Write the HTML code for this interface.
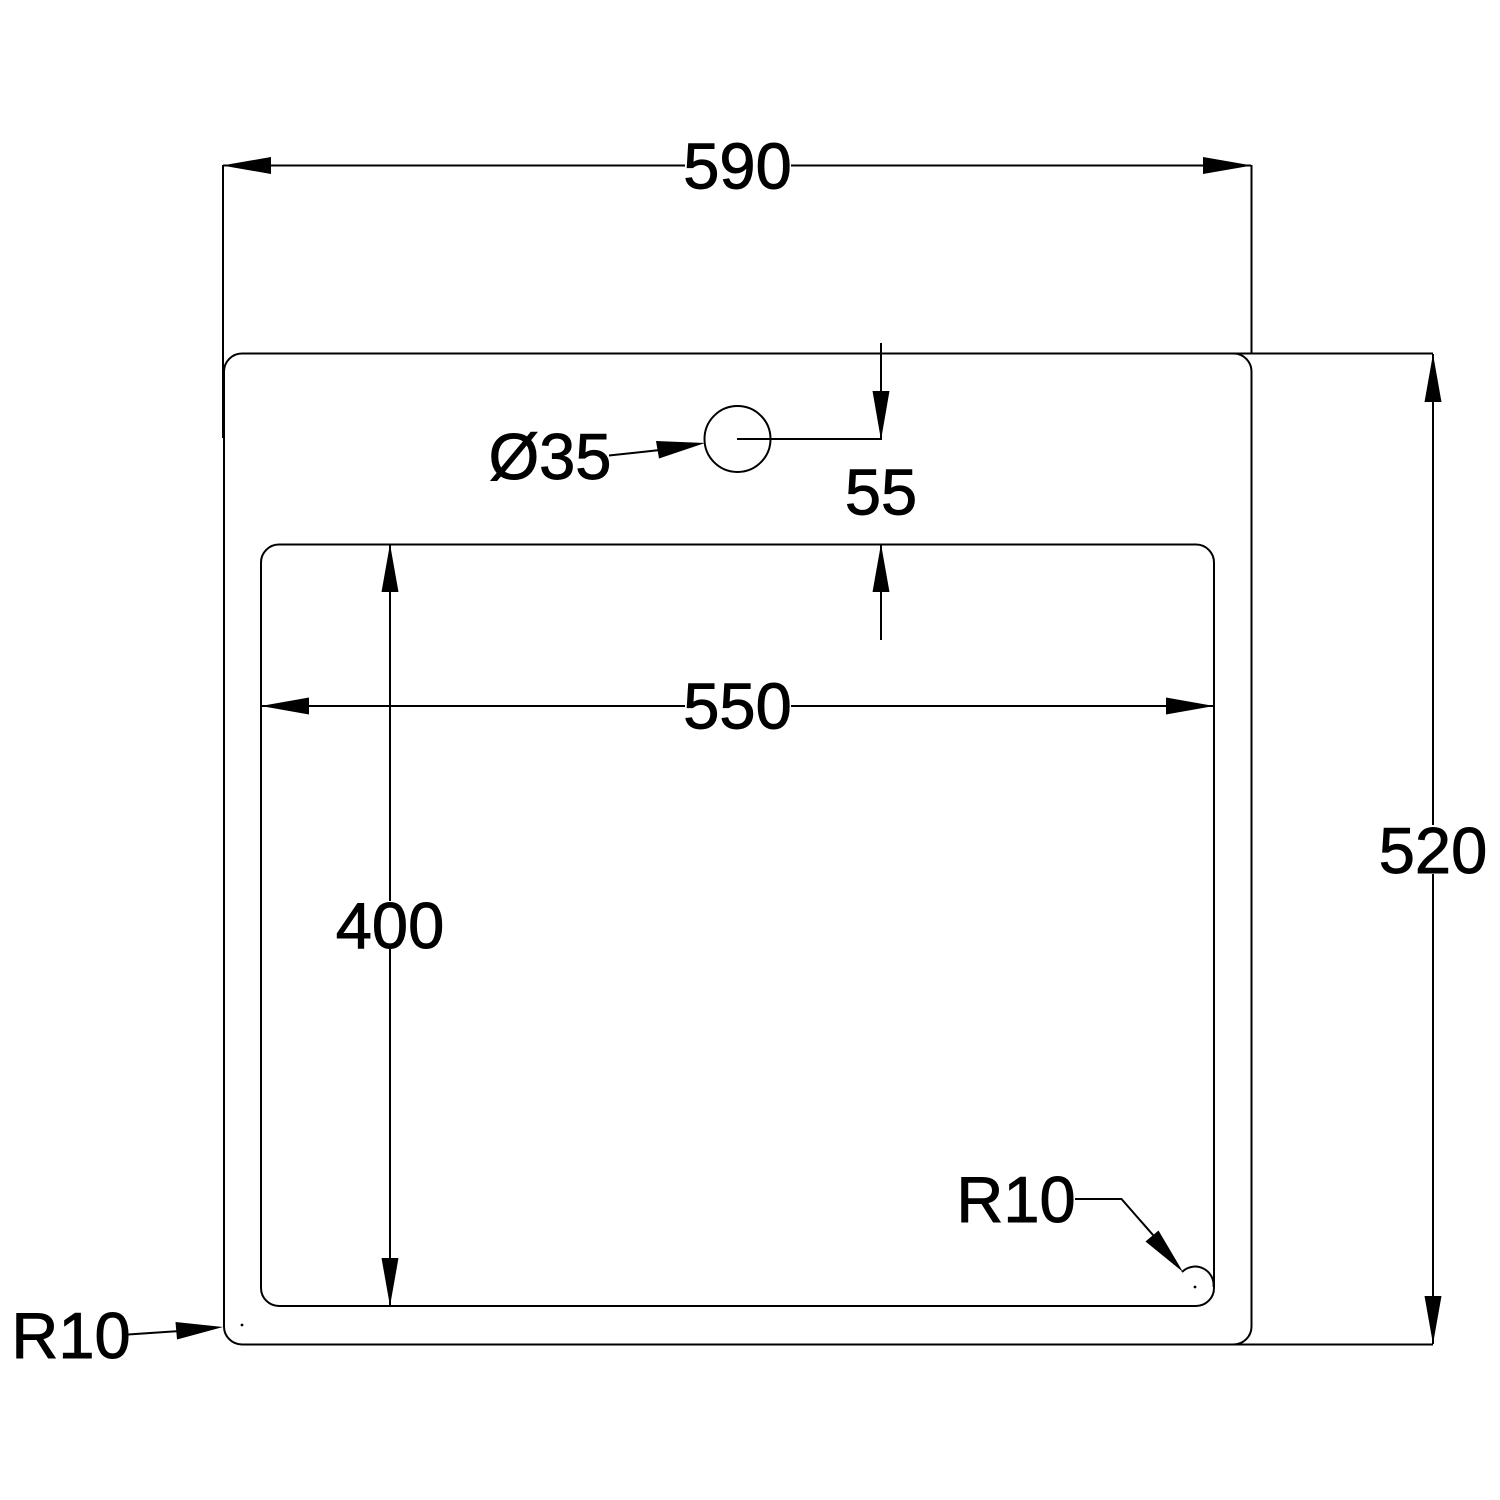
<!DOCTYPE html>
<html>
<head>
<meta charset="utf-8">
<style>
html,body{margin:0;padding:0;background:#fff;}
svg{display:block;}
text{font-family:"Liberation Sans",sans-serif;font-size:65px;fill:#000;stroke:#000;stroke-width:0.9px;}
</style>
</head>
<body>
<svg width="1500" height="1500" viewBox="0 0 1500 1500" xmlns="http://www.w3.org/2000/svg">
<rect width="1500" height="1500" fill="#fff"/>
<g fill="none" stroke="#000" stroke-width="2">
  <!-- outer -->
  <rect x="224" y="353.5" width="1027.5" height="991" rx="18" ry="18"/>
  <!-- inner -->
  <rect x="261" y="544.5" width="953" height="761.5" rx="18" ry="18"/>
  <!-- hole -->
  <circle cx="737.5" cy="439" r="33"/>
  <path d="M1182 1272A18.5 18.5 0 0 1 1213.5 1287"/>
  <!-- extension lines -->
  <path d="M223 165V438M1251.5 165V354M1218 1344.5H1433M1232 353.5H1433"/>
  <!-- 590 -->
  <path d="M223 165.5H685M791 165.5H1251"/>
  <!-- 520 -->
  <path d="M1433 354V825M1433 874V1344"/>
  <!-- 55 -->
  <path d="M881 343V439H737M881 545V640"/>
  <!-- 550 -->
  <path d="M261 706H685M791 706H1214"/>
  <!-- 400 -->
  <path d="M390 545V901M390 949V1306"/>
  <!-- Ø35 leader -->
  <path d="M609 455.5L660 450"/>
  <!-- R10 leaders -->
  <path d="M1075 1199H1121.5L1160 1243"/>
  <path d="M128 1334.5L180 1331"/>
</g>
<g fill="#000" stroke="none">
  <!-- 590 arrows -->
  <path d="M222 165.5L271 157V174Z"/>
  <path d="M1252 165.5L1203 157V174Z"/>
  <!-- 520 arrows -->
  <path d="M1433 354L1424.5 402H1441.5Z"/>
  <path d="M1433 1344L1424.5 1296H1441.5Z"/>
  <!-- 55 arrows -->
  <path d="M881 440L872.5 391H889.5Z"/>
  <path d="M881 544L872.5 592H889.5Z"/>
  <!-- 550 arrows -->
  <path d="M261 706L309 697.5V714.5Z"/>
  <path d="M1214 706L1166 697.5V714.5Z"/>
  <!-- 400 arrows -->
  <path d="M390 544L381.5 592H398.5Z"/>
  <path d="M390 1306L381.5 1258H398.5Z"/>
  <!-- Ø35 arrow -->
  <path d="M705 443L656 441L659 458.5Z"/>
  <!-- R10 arrows -->
  <path d="M1183 1272L1158.5 1230.5L1145.5 1241.5Z"/>
  <path d="M223 1327L175.5 1322L177 1339.5Z"/>
  <!-- center dots -->
  <circle cx="242" cy="1325" r="1.4"/>
  <circle cx="1195" cy="1287" r="1.4"/>
</g>
<text x="737.5" y="188.5" text-anchor="middle">590</text>
<text x="737.5" y="728.5" text-anchor="middle">550</text>
<text x="881" y="514.5" text-anchor="middle">55</text>
<text x="390" y="948" text-anchor="middle">400</text>
<text x="1433" y="873" text-anchor="middle">520</text>
<text x="1016" y="1222" text-anchor="middle">R10</text>
<text x="71" y="1358" text-anchor="middle">R10</text>
<text x="550" y="479" text-anchor="middle">Ø35</text>
</svg>
</body>
</html>
